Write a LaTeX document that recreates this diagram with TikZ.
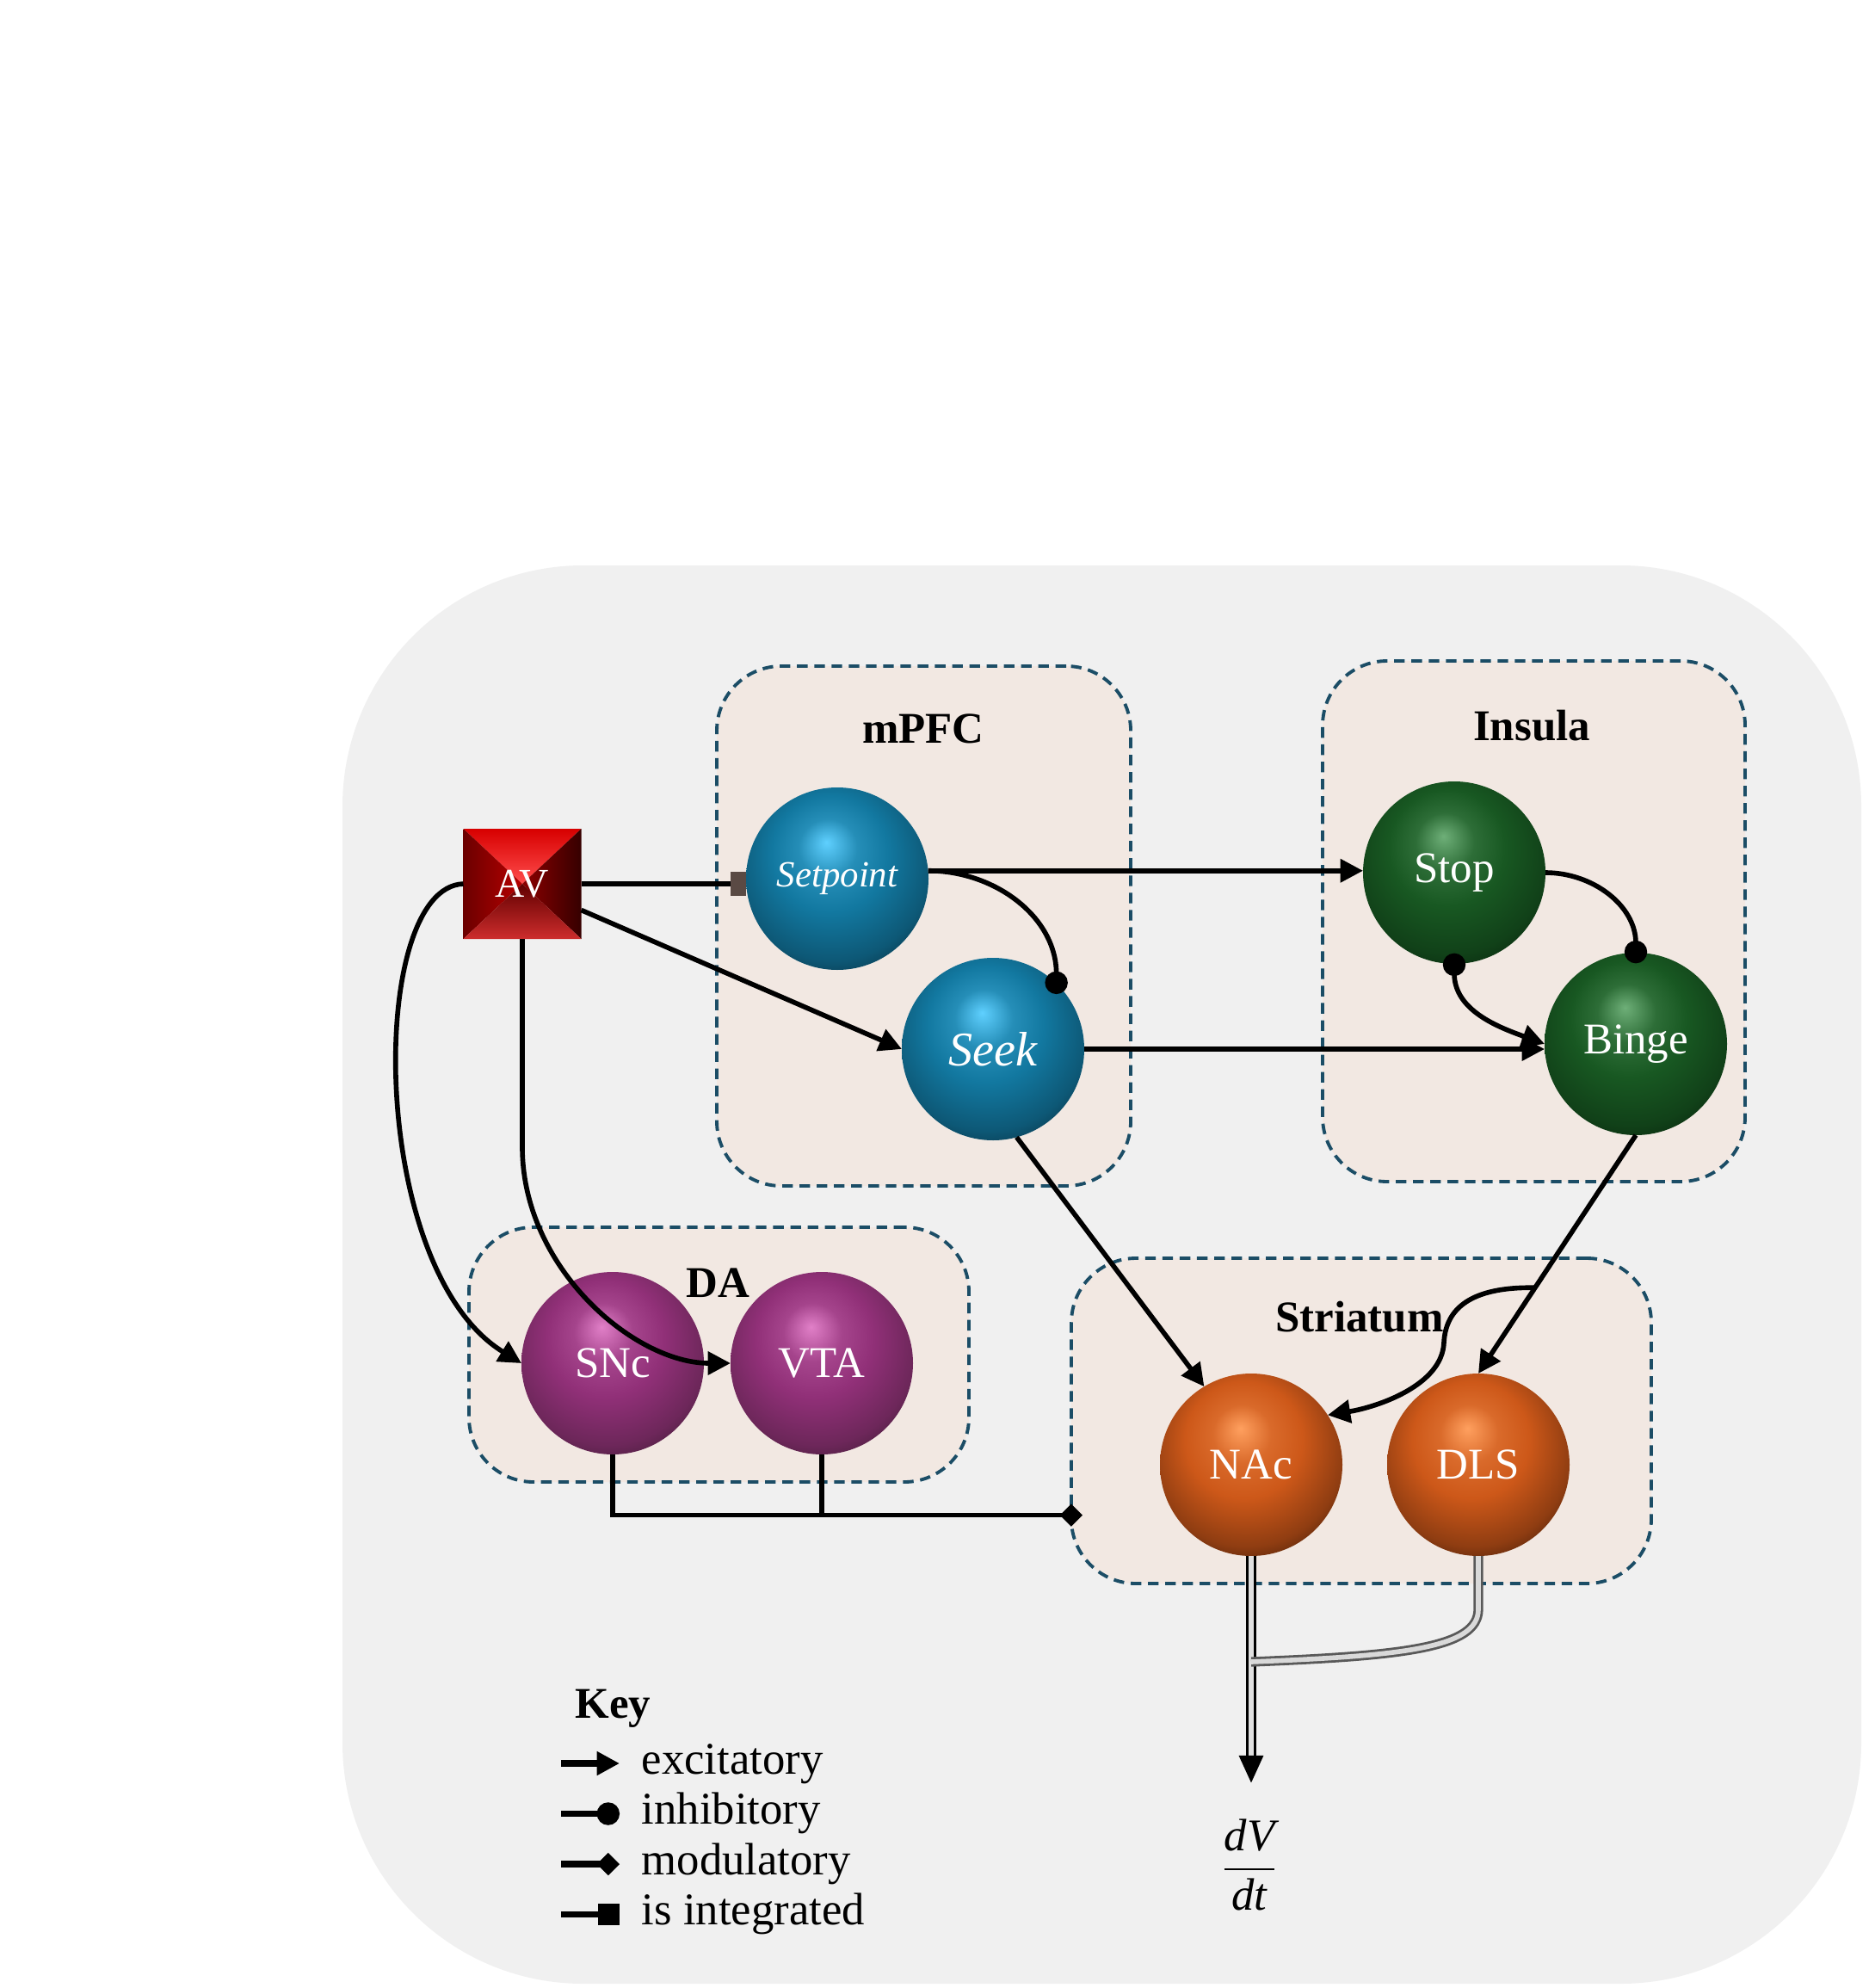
\documentclass[tikz,border=0pt]{standalone}
\usepackage{fontspec}
\setmainfont{Liberation Serif}
\usepackage{amsmath}
\usetikzlibrary{arrows.meta,positioning,calc,shapes}

\definecolor{panelgray}{HTML}{F0F0F0}
\definecolor{regionfill}{HTML}{F2E8E2}
\definecolor{regionline}{HTML}{1B4D66}
\definecolor{avred}{RGB}{215,0,0}
\definecolor{avsquare}{RGB}{90,74,68}
\definecolor{pfchi}{RGB}{95,208,255}
\definecolor{pfcmid}{RGB}{18,120,160}
\definecolor{pfcrim}{RGB}{6,40,55}
\definecolor{inshi}{RGB}{110,175,120}
\definecolor{insmid}{RGB}{24,88,34}
\definecolor{insrim}{RGB}{6,30,10}
\definecolor{dahi}{RGB}{225,128,200}
\definecolor{damid}{RGB}{145,48,120}
\definecolor{darim}{RGB}{55,25,45}
\definecolor{strhi}{RGB}{255,160,95}
\definecolor{strmid}{RGB}{205,88,25}
\definecolor{strrim}{RGB}{50,20,6}

% sphere shadings: name, highlight, body, rim
\newcommand{\declaresphere}[4]{%
  \pgfdeclareradialshading{#1}{\pgfqpoint{-3bp}{10bp}}{%
    color(0bp)=(#2); color(8bp)=(#3!75!#2); color(16bp)=(#3);
    color(27bp)=(#3!60!#4); color(36bp)=(#4); color(50bp)=(#4)}}
\declaresphere{pfcsphere}{pfchi}{pfcmid}{pfcrim}
\declaresphere{inssphere}{inshi}{insmid}{insrim}
\declaresphere{dasphere}{dahi}{damid}{darim}
\declaresphere{strsphere}{strhi}{strmid}{strrim}

\begin{document}
\begin{tikzpicture}[
    font=\fontsize{14.5}{17}\selectfont,
    region/.style={rectangle, rounded corners=0.75cm, draw=regionline, fill=regionfill, line width=1.1pt, dash pattern=on 3.5pt off 2.2pt, inner sep=0pt, outer sep=0pt},
    regionlabel/.style={font=\fontsize{14.5}{17}\selectfont\bfseries},
    neuron/.style={circle, minimum size=2.12cm, inner sep=0pt, outer sep=0pt, text=white, shading=#1},
    conn/.style={line width=1.6pt},
    excit/.style={conn, -{Triangle[length=7.5pt,width=7.5pt]}},
    inhib/.style={conn, -{Circle[length=7.5pt]}, shorten >=-3.5pt},
    modul/.style={conn, -{Diamond[length=7.5pt,width=7.5pt]}},
    integ/.style={conn, -{Square[length=7pt]}},
    summed/.style={double=#1, double distance=1.6pt, line width=0.8pt},
    keyline/.style={line width=2.2pt, shorten >=0pt},
    keytext/.style={anchor=base west, inner sep=0pt, font=\fontsize{15}{18}\selectfont}
]

% Page and panel
\fill[white] (0,0) rectangle (21.72,-23.10);
\useasboundingbox (0,0) rectangle (21.72,-23.10);
\fill[panelgray, rounded corners=2.8cm] (3.98,-6.57) rectangle (21.63,-23.05);

% Regions
\node[region, minimum width=4.81cm, minimum height=6.04cm] (mpfc) at (10.735,-10.76) {};
\node[region, minimum width=4.91cm, minimum height=6.05cm] (insula) at (17.825,-10.705) {};
\node[region, minimum width=5.81cm, minimum height=2.96cm] (da) at (8.355,-15.74) {};
\node[region, minimum width=6.74cm, minimum height=3.78cm] (striatum) at (15.82,-16.51) {};

\node[regionlabel] (mpfclabel) at (10.73,-8.47) {mPFC};
\node[regionlabel] (insulalabel) at (17.80,-8.43) {Insula};
\node[regionlabel] (dalabel) at (8.34,-14.91) {DA};
\node[regionlabel] (striatumlabel) at (15.80,-15.30) {Striatum};

% Populations
\node[neuron=pfcsphere, font=\fontsize{12.2}{14}\selectfont\itshape] (setpoint) at (9.73,-10.21) {Setpoint};
\node[neuron=pfcsphere, font=\fontsize{16}{19}\selectfont\itshape] (seek) at (11.54,-12.19) {Seek};
\node[neuron=inssphere] (stop) at (16.90,-10.14) {Stop};
\node[neuron=inssphere] (binge) at (19.01,-12.13) {Binge};
\node[neuron=dasphere] (snc) at (7.12,-15.84) {SNc};
\node[neuron=dasphere, right=0.31cm of snc] (vta) {VTA};
\node[neuron=strsphere] (nac) at (14.54,-17.02) {NAc};
\node[neuron=strsphere, right=0.52cm of nac] (dls) {DLS};

% AV input (bevelled square)
\node[rectangle, minimum width=1.37cm, minimum height=1.28cm, inner sep=0pt, outer sep=0pt] (av) at (6.07,-10.27) {};
\shade[top color=avred, bottom color=red!70!white] (av.north west) -- (av.north east) -- (av.center) -- cycle;
\shade[left color=avred!50!black, right color=avred!85!black] (av.north west) -- (av.center) -- (av.south west) -- cycle;
\shade[left color=avred!65!black, right color=avred!25!black] (av.north east) -- (av.south east) -- (av.center) -- cycle;
\shade[top color=avred!45!black, bottom color={rgb,255:red,205;green,45;blue,45}] (av.south west) -- (av.center) -- (av.south east) -- cycle;
\node[text=white, font=\fontsize{13.5}{16}\selectfont] (avlabel) at (av) {AV};

% Connections
\draw[conn, -{Rectangle[length=5pt,width=8pt,color=avsquare]}] (av.east) -- (av.east -| setpoint.west);
\draw[excit] (av.-24) -- (seek.west);
\draw[excit] (setpoint.5) -- (setpoint.5 -| stop.west);
\draw[inhib] (setpoint.5) to[out=0, in=90] (seek.46);
\draw[excit] (seek.east) -- (seek.east -| binge.west);
\draw[inhib] (stop.east) to[out=0, in=90] (binge.north);
\draw[conn, {Circle[length=7.5pt]}-{Triangle[length=7.5pt,width=7.5pt]}, shorten <=-3.5pt] (stop.south) to[out=-90, in=160] (binge.west);
\draw[excit] (seek.-75) -- (nac.121);
\draw[excit] (binge.south) -- (dls.north);
\coordinate (split) at ($(binge.south)!0.64!(dls.north)$);
\coordinate (bend) at (16.78,-15.60);
\draw[excit] (split) .. controls (17.10,-14.95) and (16.80,-15.20) .. (bend) .. controls (16.76,-16.10) and (16.00,-16.35) .. (nac.33);

% AV to dopamine
\draw[excit] (av.west) .. controls +(-1.12,-0.04) and +(-1.79,1.10) .. (snc.west);
\draw[excit] (av.south) -- ++(0,-2.42) .. controls +(0,-1.40) and +(-1.12,0) .. (vta.west);

% Dopamine modulates striatum
\coordinate (mod) at ($(striatum.south west)!0.21!(striatum.north west)$);
\draw[modul, shorten >=-3.7pt] (snc.south) |- (mod);
\draw[conn] (vta.south) -- (vta.south |- mod);

% Output
\node[font=\fontsize{15}{18}\selectfont] (dvdt) at (14.52,-21.67) {$\dfrac{\textit{dV}}{\textit{dt}}$};
\coordinate (dvdtin) at ([yshift=0.30cm]dvdt.north);
\coordinate (join) at (nac.south |- 0,-19.31);
\draw[summed=white!88!black, -{Triangle[length=9pt,width=8pt]}] (nac.south) -- (nac.south |- dvdtin);
\draw[summed=white!85!black, draw=black!65] (dls.south) -- ++(0,-0.62) .. controls +(0,-0.45) and (16.30,-19.24) .. (join);

% Key
\node[regionlabel, anchor=west, inner sep=0pt] (keytitle) at (6.68,-19.85) {Key};
\foreach \kstyle/\ktext [count=\k] in {excit/excitatory, inhib/inhibitory, modul/modulatory, integ/is integrated} {
  \node[keytext] (key\k) at (7.45,{-20.61-0.585*(\k-1)}) {\ktext};
  \draw[\kstyle, keyline] ($(key\k.base west)+(-0.93,0.12)$) -- ($(key\k.base west)+(-0.25,0.12)$);
}

\end{tikzpicture}
\end{document}
